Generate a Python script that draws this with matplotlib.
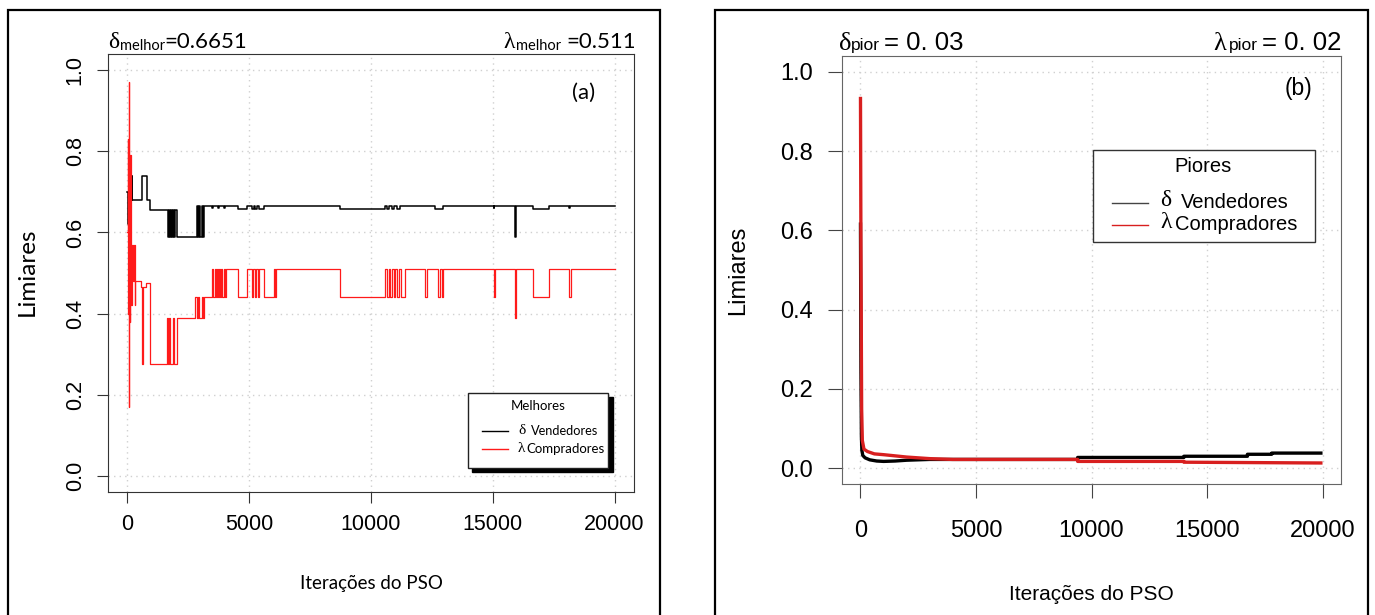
import matplotlib
matplotlib.use("Agg")
import matplotlib.pyplot as plt
from matplotlib.patches import Rectangle
from matplotlib.lines import Line2D

W, H = 1375, 615

# ---- panel (a): melhores (best-so-far thresholds), step breakpoints ----
melhor_iter_delta = [0, 30, 60, 96, 130, 170, 200, 260, 600, 810, 920,
                     1650, 1690, 1730, 1770, 1820, 1860, 1910, 1950, 2030, 2070,
                     2860, 2900, 2940, 2990, 3040, 3090, 3130,
                     3474, 3520, 3700, 3760, 3950, 4010,
                     4538, 4892, 5105, 5180, 5250, 5330, 5390, 5601, 6097,
                     8721, 10564, 10650, 10750, 10850, 10950, 11050, 11200, 11415,
                     12620, 12975, 15031, 15070, 15924, 15964, 16662, 17300, 18150, 18190, 20000]
melhor_delta = [0.70, 0.62, 0.74, 0.74, 0.68, 0.74, 0.68, 0.68, 0.74, 0.68, 0.655,
                0.59, 0.655, 0.59, 0.655, 0.59, 0.655, 0.59, 0.655, 0.59, 0.59,
                0.665, 0.59, 0.665, 0.59, 0.665, 0.59, 0.665,
                0.660, 0.665, 0.660, 0.665, 0.660, 0.665,
                0.657, 0.665, 0.657, 0.665, 0.657, 0.665, 0.657, 0.665, 0.665,
                0.657, 0.665, 0.657, 0.665, 0.657, 0.665, 0.657, 0.665, 0.665,
                0.658, 0.665, 0.660, 0.665, 0.59, 0.665, 0.657, 0.665, 0.660, 0.665, 0.665]

melhor_iter_lambda = [0, 15, 30, 45, 60, 75, 90, 110, 140, 165, 190, 219, 260, 290, 315,
                      561, 600, 625, 740, 917,
                      1630, 1670, 1720, 1760, 1850, 1890, 2030, 2070,
                      2790, 2840, 2900, 2950, 3050, 3090, 3130,
                      3474, 3530, 3580, 3620, 3660, 3700, 3760, 3800, 3850, 3900, 3950, 4000, 4050,
                      4538, 4892, 5105, 5160, 5220, 5290, 5340, 5390, 5601, 6000, 6040, 6097,
                      8721, 10564, 10640, 10720, 10790, 10860, 10930, 11000, 11080, 11160, 11250, 11415,
                      12237, 12290, 12762, 12830, 12900, 12975, 15031, 15080, 15924, 15970,
                      16662, 17300, 18150, 18200, 20000]
melhor_lambda = [0.60, 0.83, 0.40, 0.97, 0.17, 0.72, 0.38, 0.79, 0.50, 0.42, 0.57, 0.48, 0.57, 0.42, 0.48,
                 0.465, 0.275, 0.465, 0.475, 0.275,
                 0.39, 0.275, 0.39, 0.275, 0.39, 0.275, 0.39, 0.39,
                 0.44, 0.39, 0.44, 0.39, 0.44, 0.39, 0.44,
                 0.511, 0.44, 0.511, 0.44, 0.511, 0.44, 0.511, 0.44, 0.511, 0.44, 0.511, 0.44, 0.511,
                 0.44, 0.511, 0.44, 0.511, 0.44, 0.511, 0.44, 0.511, 0.44, 0.511, 0.44, 0.511,
                 0.44, 0.511, 0.44, 0.511, 0.44, 0.511, 0.44, 0.511, 0.44, 0.511, 0.44, 0.511,
                 0.44, 0.511, 0.44, 0.511, 0.44, 0.511, 0.44, 0.511, 0.39, 0.511,
                 0.44, 0.511, 0.44, 0.511, 0.511]

# ---- panel (b): piores (worst) thresholds ----
pior_iter_delta = [0, 20, 40, 60, 100, 200, 400, 700, 1000, 1500, 2000, 3000, 3500,
                   9400, 9401, 14000, 14001, 16750, 16751, 17800, 17801, 20000]
pior_delta = [0.62, 0.25, 0.08, 0.045, 0.032, 0.026, 0.021, 0.018, 0.017, 0.018, 0.020, 0.022, 0.022,
              0.022, 0.027, 0.027, 0.030, 0.030, 0.035, 0.035, 0.038, 0.038]

pior_iter_lambda = [0, 20, 50, 80, 150, 300, 600, 1000, 1500, 2000, 3000, 4000,
                    9400, 9401, 14000, 14001, 20000]
pior_lambda = [0.937, 0.55, 0.15, 0.07, 0.048, 0.042, 0.036, 0.034, 0.031, 0.028, 0.024, 0.022,
               0.022, 0.017, 0.017, 0.015, 0.013]

x_ticks = [0, 5000, 10000, 15000, 20000]
y_ticks = [0.0, 0.2, 0.4, 0.6, 0.8, 1.0]

SANS = "Liberation Sans"
CAL = "Lato"
SERIF = "Liberation Serif"


def box(l, t, r, b):
    return [l / W, 1 - b / H, (r - l) / W, (b - t) / H]


def fx(x):
    return x / W


def fy(y):
    return 1 - y / H


fig = plt.figure(figsize=(W / 100, H / 100), dpi=100)
fig.patch.set_facecolor("white")

# outer frames
for l, r in [(8, 660), (715, 1368)]:
    fig.patches.append(Rectangle((fx(l), -0.1), fx(r) - fx(l), fy(10) + 0.1,
                                 transform=fig.transFigure, fill=False,
                                 edgecolor="black", linewidth=1.6))

# ---------------- panel (a) ----------------
ax1 = fig.add_axes(box(108, 54, 634, 492))
ax1.step(melhor_iter_delta, melhor_delta, where="post", color="black", lw=1.1)
ax1.step(melhor_iter_lambda, melhor_lambda, where="post", color="#ff1a1a", lw=0.9)
ax1.set_xlim(-800, 20800)
ax1.set_ylim(-0.04, 1.04)
ax1.set_xticks(x_ticks)
ax1.set_yticks(y_ticks)
ax1.set_xticklabels([str(t) for t in x_ticks], family=SANS, fontsize=15.5)
ax1.set_yticklabels([f"{t:.1f}" for t in y_ticks], family=SANS, fontsize=15.5,
                    rotation=90, va="center")
ax1.grid(True, color="#d0d0d0", linestyle=(0, (1, 3)), lw=1.0)
for s in ax1.spines.values():
    s.set_color("#333333")
ax1.tick_params(length=8, color="#333333", pad=8)
ax1.tick_params(axis="y", pad=8)
ax1.text(0.905, 0.912, "(a)", transform=ax1.transAxes, family=CAL, fontsize=16,
         ha="center", va="center")

fig.text(fx(371), fy(583), "Iterações do PSO", family=CAL, fontsize=13.5,
         ha="center", va="center")
fig.text(fx(27), fy(272), "Limiares", family=CAL, fontsize=17.5, rotation=90,
         ha="center", va="center")

# titles of (a)
fig.text(fx(108), fy(48), "δ", family=SERIF, fontsize=17, ha="left", va="baseline")
fig.text(fx(120), fy(50), "melhor", family=CAL, fontsize=10.5, ha="left", va="baseline")
fig.text(fx(164), fy(48), "=0.6651", family=CAL, fontsize=16, ha="left", va="baseline")
fig.text(fx(503), fy(48), "λ", family=SERIF, fontsize=17, ha="left", va="baseline")
fig.text(fx(516), fy(50), "melhor", family=CAL, fontsize=10.5, ha="left", va="baseline")
fig.text(fx(636), fy(48), "=0.511", family=CAL, fontsize=16, ha="right", va="baseline")

# legend of (a)
fig.patches.append(Rectangle((fx(472), fy(472)), fx(613) - fx(472), fy(397) - fy(472),
                             transform=fig.transFigure, facecolor="black", edgecolor="black"))
fig.patches.append(Rectangle((fx(468), fy(468)), fx(608) - fx(468), fy(393) - fy(468),
                             transform=fig.transFigure, facecolor="white",
                             edgecolor="#222222", lw=1.0))
fig.text(fx(538), fy(406), "Melhores", family=CAL, fontsize=9.5, ha="center", va="center")
fig.lines.append(Line2D([fx(482), fx(508)], [fy(431), fy(431)], transform=fig.transFigure,
                        color="black", lw=1.0))
fig.lines.append(Line2D([fx(482), fx(508)], [fy(449), fy(449)], transform=fig.transFigure,
                        color="#ff1a1a", lw=1.0))
fig.text(fx(518), fy(430), "δ", family=SERIF, fontsize=11, ha="left", va="center")
fig.text(fx(531), fy(431), "Vendedores", family=CAL, fontsize=9.2, ha="left", va="center")
fig.text(fx(518), fy(448), "λ", family=SERIF, fontsize=11, ha="left", va="center")
fig.text(fx(526), fy(449), "Compradores", family=CAL, fontsize=9.5, ha="left", va="center")

# ---------------- panel (b) ----------------
ax2 = fig.add_axes(box(842, 56, 1341, 484))
ax2.plot(pior_iter_delta, pior_delta, color="black", lw=2.4, solid_capstyle="butt")
ax2.plot(pior_iter_lambda, pior_lambda, color="#d81f1f", lw=2.4, solid_capstyle="butt")
ax2.set_xlim(-800, 20800)
ax2.set_ylim(-0.04, 1.04)
ax2.set_xticks(x_ticks)
ax2.set_yticks(y_ticks)
ax2.set_xticklabels([str(t) for t in x_ticks], family=SANS, fontsize=17)
ax2.set_yticklabels([f"{t:.1f}" for t in y_ticks], family=SANS, fontsize=17)
ax2.grid(True, color="#d0d0d0", linestyle=(0, (1, 3)), lw=1.0)
for s in ax2.spines.values():
    s.set_color("#666666")
ax2.tick_params(length=10, color="#444444", pad=11)
ax2.tick_params(axis="x", pad=16)
ax2.text(0.915, 0.925, "(b)", transform=ax2.transAxes, family=SANS, fontsize=16.5,
         ha="center", va="center")

fig.text(fx(1091), fy(595), "Iterações do PSO", family=SANS, fontsize=15,
         ha="center", va="center")
fig.text(fx(738), fy(270), "Limiares", family=SANS, fontsize=17, rotation=90,
         ha="center", va="center")

fig.text(fx(839), fy(50), "δ", family=SERIF, fontsize=19, ha="left", va="baseline")
fig.text(fx(851), fy(50), "pior", family=SANS, fontsize=12.5, ha="left", va="baseline")
fig.text(fx(884), fy(50), "= 0. 03", family=SANS, fontsize=18.5, ha="left", va="baseline")
fig.text(fx(1213), fy(50), "λ", family=SERIF, fontsize=19, ha="left", va="baseline")
fig.text(fx(1229), fy(50), "pior", family=SANS, fontsize=12.5, ha="left", va="baseline")
fig.text(fx(1341), fy(50), "= 0. 02", family=SANS, fontsize=18.5, ha="right", va="baseline")

# legend of (b)
fig.patches.append(Rectangle((fx(1093), fy(242)), fx(1315) - fx(1093), fy(150) - fy(242),
                             transform=fig.transFigure, facecolor="white",
                             edgecolor="#333333", lw=1.0))
fig.text(fx(1203), fy(167), "Piores", family=SANS, fontsize=14.5, ha="center", va="center")
fig.lines.append(Line2D([fx(1112), fx(1148)], [fy(203), fy(203)], transform=fig.transFigure,
                        color="#444444", lw=1.0))
fig.lines.append(Line2D([fx(1112), fx(1148)], [fy(225), fy(225)], transform=fig.transFigure,
                        color="#d81f1f", lw=1.0))
fig.text(fx(1160), fy(200), "δ", family=SERIF, fontsize=17, ha="left", va="center")
fig.text(fx(1181), fy(203), "Vendedores", family=SANS, fontsize=14.5, ha="left", va="center")
fig.text(fx(1160), fy(223), "λ", family=SERIF, fontsize=17, ha="left", va="center")
fig.text(fx(1175), fy(225), "Compradores", family=SANS, fontsize=14.5, ha="left", va="center")

fig.savefig("out.png", dpi=100)
